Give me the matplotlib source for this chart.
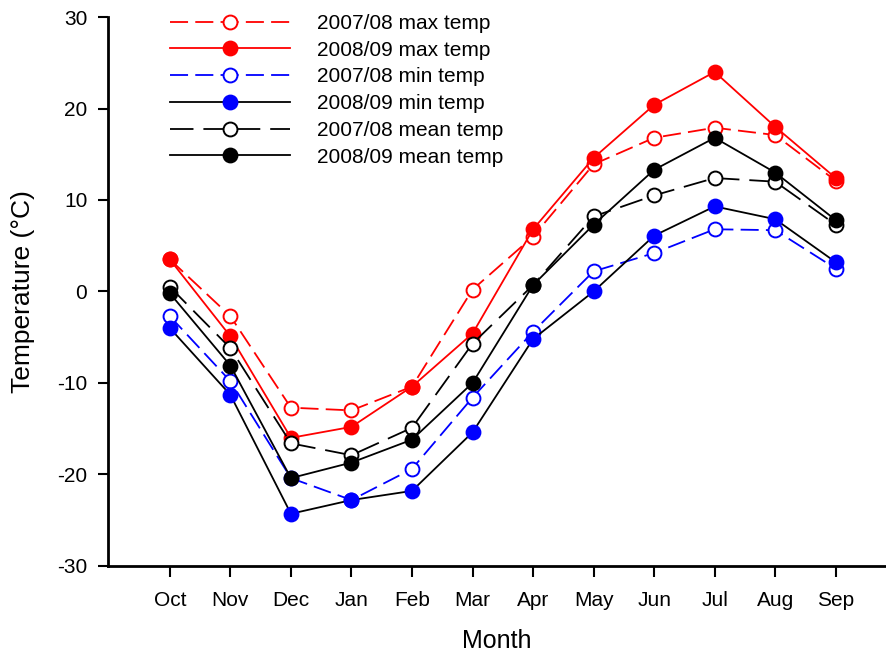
import matplotlib
matplotlib.use("Agg")
import matplotlib.pyplot as plt
import numpy as np

plt.rcParams["font.family"] = ["Liberation Sans", "DejaVu Sans"]
plt.rcParams["axes.unicode_minus"] = False

MONTHS = ["Oct", "Nov", "Dec", "Jan", "Feb", "Mar", "Apr", "May", "Jun", "Jul", "Aug", "Sep"]

MAX_0708 = [3.5, -2.7, -12.7, -13.0, -10.4, 0.2, 6.0, 13.9, 16.8, 17.9, 17.1, 12.1]
MAX_0809 = [3.5, -4.9, -16.0, -14.8, -10.4, -4.6, 6.8, 14.6, 20.4, 24.0, 18.0, 12.4]
MIN_0708 = [-2.7, -9.8, -20.4, -22.8, -19.4, -11.6, -4.4, 2.2, 4.2, 6.8, 6.7, 2.5]
MIN_0809 = [-4.0, -11.3, -24.3, -22.8, -21.8, -15.4, -5.2, 0.0, 6.1, 9.3, 7.9, 3.2]
MEAN_0708 = [0.5, -6.2, -16.6, -17.9, -14.9, -5.7, 0.7, 8.2, 10.5, 12.4, 12.0, 7.3]
MEAN_0809 = [-0.2, -8.1, -20.4, -18.7, -16.2, -10.0, 0.7, 7.3, 13.3, 16.8, 13.0, 7.8]

RED = "#ff0000"
BLUE = "#0000ff"
INK = "black"
SHORT_DASH = (10, 4)
LONG_DASH = (13, 5.5)

# (label, values, line colour, marker colour, filled, dash pattern)
SERIES = [
    ("2007/08 max temp", MAX_0708, RED, RED, False, SHORT_DASH),
    ("2008/09 max temp", MAX_0809, RED, RED, True, None),
    ("2007/08 min temp", MIN_0708, BLUE, BLUE, False, SHORT_DASH),
    ("2008/09 min temp", MIN_0809, INK, BLUE, True, None),
    ("2007/08 mean temp", MEAN_0708, INK, INK, False, LONG_DASH),
    ("2008/09 mean temp", MEAN_0809, INK, INK, True, None),
]

fig = plt.figure(figsize=(8.86, 6.55), dpi=100)
ax = fig.add_axes([0.122, 0.136, 0.878, 0.838])

x = np.arange(1, len(MONTHS) + 1)
for label, vals, lc, mc, filled, dash in SERIES:
    line, = ax.plot(
        x, vals, color=lc, lw=1.3, marker="o", markersize=10,
        markeredgewidth=1.4, markeredgecolor=mc,
        markerfacecolor=mc if filled else "white", label=label,
    )
    if dash:
        line.set_dashes(dash)

ax.set_xlim(-0.02, 12.83)
ax.set_ylim(-30, 30)
ax.set_xticks(x)
ax.set_xticklabels(MONTHS, fontsize=15)
ax.set_yticks(np.arange(-30, 31, 10))
ax.tick_params(axis="y", labelsize=15, length=7, width=1.5, direction="out", pad=8)
ax.tick_params(axis="x", length=8, width=1.5, direction="out", pad=10)
for side in ("top", "right"):
    ax.spines[side].set_visible(False)
for side in ("left", "bottom"):
    ax.spines[side].set_linewidth(2)

ax.set_xlabel("Month", fontsize=18, labelpad=14)
ax.set_ylabel("Temperature (°C)", fontsize=19, labelpad=16)

ax.legend(
    loc="upper left", bbox_to_anchor=(0.0797, 1.0055), frameon=False,
    fontsize=15, handlelength=5.77, handletextpad=1.3, labelspacing=0.37,
    borderpad=0, borderaxespad=0, numpoints=1,
)

fig.savefig("out.png", dpi=100)
